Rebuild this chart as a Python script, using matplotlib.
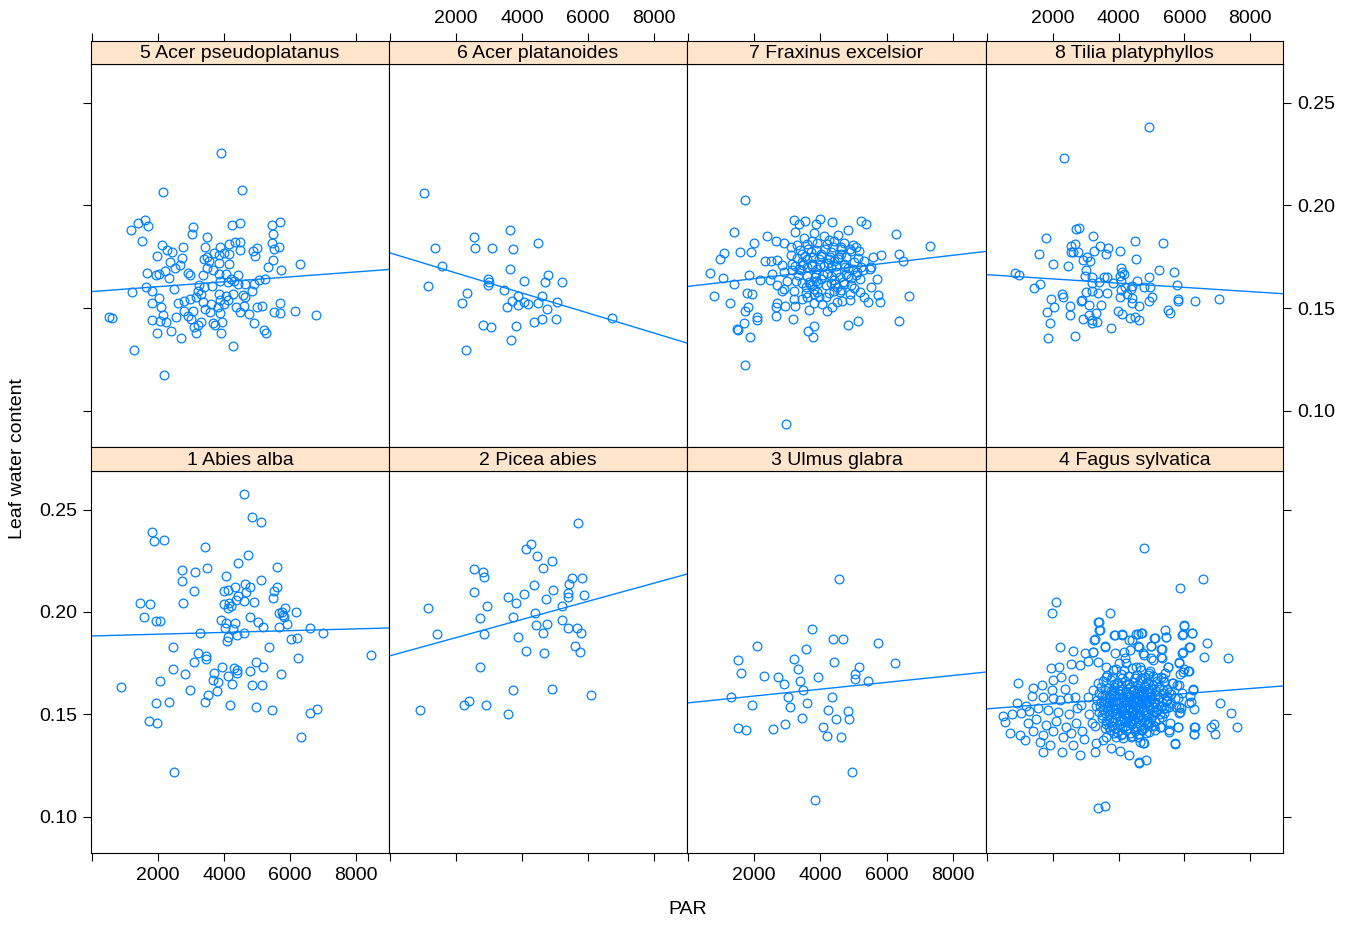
import matplotlib
matplotlib.use('Agg')
from matplotlib import pyplot as plt

plt.rcParams['font.family'] = ['Liberation Sans', 'DejaVu Sans']

# 5 Acer pseudoplatanus
acer_ps_par = [3900, 2150, 4535, 1180, 1405, 1605, 1690, 1515, 3070, 3020, 4230, 4485, 5445, 5690, 5475, 3485,
               2120, 2275, 2425, 1980, 2770, 2720, 2355, 2655, 2505, 2225, 1680, 1930, 2030, 2325, 3415, 3880,
               4160, 4335, 4475, 4475, 3685, 3850, 4010, 4160, 3485, 3405, 3555, 3850, 4140, 3665, 3475, 4870,
               5000, 4940, 5505, 5455, 5665, 5475, 5325, 5725, 6315, 2900, 2980, 3355, 3850, 4060, 4415, 4210,
               4315, 3890, 4130, 4415, 4635, 4920, 5050, 5240, 2475, 1635, 1820, 1200, 2040, 1820, 2090, 2615,
               2800, 2980, 3150, 3255, 3405, 3625, 3200, 3305, 3850, 4060, 4265, 4565, 4840, 4635, 3890, 4110,
               3355, 3605, 3990, 2800, 3050, 3435, 3565, 3810, 3880, 4365, 4615, 4485, 4770, 4990, 5140, 5695,
               5505, 5705, 6150, 6800, 525, 605, 2140, 1810, 2050, 2235, 2555, 2920, 3000, 3305, 3225, 3100,
               3655, 3940, 3735, 1960, 2395, 2685, 3160, 3900, 4910, 5200, 5280, 4285, 1285, 2170]
acer_ps_lwc = [.2257, .2064, .2075, .1881, .1914, .1930, .1898, .1826, .1895, .1862, .1906, .1914, .1903, .1920, .1860, .1846,
               .1808, .1781, .1774, .1755, .1799, .1746, .1724, .1711, .1696, .1682, .1673, .1662, .1664, .1647, .1795, .1797,
               .1813, .1820, .1820, .1784, .1769, .1756, .1769, .1764, .1748, .1737, .1729, .1719, .1716, .1686, .1693, .1776,
               .1794, .1753, .1789, .1816, .1799, .1732, .1698, .1683, .1716, .1672, .1659, .1659, .1667, .1667, .1662, .1642,
               .1634, .1634, .1626, .1618, .1618, .1618, .1639, .1642, .1594, .1602, .1582, .1576, .1550, .1524, .1507, .1524,
               .1533, .1545, .1553, .1610, .1605, .1607, .1585, .1569, .1569, .1561, .1569, .1566, .1584, .1553, .1537, .1537,
               .1529, .1520, .1520, .1488, .1488, .1496, .1480, .1504, .1475, .1504, .1512, .1480, .1472, .1504, .1508, .1526,
               .1483, .1477, .1486, .1465, .1459, .1452, .1464, .1442, .1439, .1431, .1456, .1460, .1447, .1431, .1420, .1407,
               .1426, .1431, .1420, .1379, .1390, .1355, .1379, .1379, .1426, .1395, .1379, .1317, .1294, .1176]
acer_ps_fit = [0.15804, 1.196e-6]

# 6 Acer platanoides
acer_pl_par = [1030, 2545, 2575, 3100, 3645, 3730, 4485, 1365, 1585, 1160, 3645, 2960, 2990, 2980, 4060, 4780,
               4685, 5210, 3465, 2335, 2190, 3870, 3700, 3870, 4060, 4170, 4485, 4595, 5060, 3555, 4760, 4605,
               5020, 4355, 2810, 3060, 3830, 3675, 2305, 6720]
acer_pl_lwc = [.2060, .1846, .1791, .1794, .1882, .1786, .1818, .1794, .1706, .1608, .1688, .1641, .1625, .1612, .1633, .1659,
               .1628, .1625, .1589, .1573, .1524, .1560, .1534, .1516, .1530, .1522, .1527, .1558, .1530, .1503, .1495, .1447,
               .1447, .1430, .1420, .1407, .1413, .1343, .1298, .1452]
acer_pl_fit = [0.17685, -4.873e-6]

# 7 Fraxinus excelsior
frax_par = [1720, 1385, 2375, 1990, 1585, 1890, 1100, 980, 675, 1050, 1385, 1850, 2170, 2315, 2495, 2675,
            2525, 2475, 800, 1265, 1790, 1940, 1820, 1715, 2070, 2070, 1685, 1465, 1505, 1860, 2645, 2900,
            3200, 3355, 3525, 3860, 3980, 4335, 5220, 5375, 3220, 3810, 4110, 4535, 4820, 6270, 7315, 6375,
            6485, 5830, 5575, 5505, 5695, 5525, 5745, 5795, 5425, 6665, 6385, 5120, 4820, 3810, 3635, 3770,
            3160, 2645, 2645, 2930, 3235, 2700, 3655, 4210, 4335, 4060, 3810, 4515, 4665, 3200, 3455, 3960,
            4180, 4890, 5200, 5305, 2830, 2900, 2700, 3200, 3555, 3810, 4415, 4615, 5020, 4715, 4315, 3655,
            3255, 3000, 4010, 4920, 5200, 2900, 3150, 3405, 3860, 4210, 4465, 4765, 5100, 5275, 5525, 3150,
            3455, 3760, 4110, 4415, 4715, 5020, 5325, 2850, 3100, 3455, 3705, 4010, 4315, 4615, 4920, 5175,
            3305, 3605, 3910, 4210, 4415, 4715, 4970, 5070, 3100, 3505, 3760, 4265, 4635, 3355, 3605, 3910,
            4315, 4820, 3605, 3960, 4265, 4565, 3860, 4415, 3810, 3605, 3760, 4495, 1727, 2970,
            3380, 3630, 3880, 4130, 4380, 4630, 4880, 5130, 3280, 3530, 3780, 4030, 4280, 4530, 4780, 5230,
            3230, 3480, 3730, 3980, 4230, 4480, 4730, 4980, 3330, 3580, 3830, 4080, 4330, 4580, 4830, 5080,
            3430, 3680, 3930, 4180, 4430, 4680, 4930, 3550, 3900, 4250, 4600, 4900]
frax_lwc = [.2024, .1868, .1853, .1816, .1771, .1771, .1767, .1740, .1670, .1647, .1615, .1663, .1637, .1730, .1730, .1735,
            .1667, .1637, .1559, .1527, .1572, .1569, .1507, .1488, .1458, .1442, .1429, .1398, .1393, .1358, .1826, .1816,
            .1930, .1910, .1923, .1910, .1933, .1920, .1922, .1910, .1868, .1865, .1849, .1858, .1878, .1862, .1800, .1764,
            .1728, .1756, .1751, .1691, .1642, .1602, .1562, .1530, .1531, .1558, .1439, .1439, .1416, .1413, .1390, .1361,
            .1449, .1462, .1504, .1512, .1509, .1523, .1491, .1484, .1507, .1520, .1523, .1528, .1536, .1545, .1545, .1556,
            .1556, .1569, .1577, .1556, .1585, .1593, .1610, .1585, .1602, .1593, .1585, .1588, .1598, .1618, .1624, .1626,
            .1634, .1634, .1642, .1647, .1642, .1675, .1683, .1683, .1667, .1670, .1675, .1667, .1675, .1683, .1699, .1715,
            .1723, .1715, .1707, .1728, .1715, .1723, .1728, .1712, .1756, .1764, .1772, .1764, .1772, .1764, .1780, .1777,
            .1805, .1813, .1816, .1810, .1829, .1816, .1805, .1797, .1797, .1842, .1829, .1832, .1797, .1691, .1699, .1691,
            .1699, .1696, .1740, .1740, .1740, .1748, .1634, .1637, .1569, .1553, .1610, .1602, .1224, .0937,
            .1785, .1790, .1782, .1788, .1795, .1786, .1790, .1745, .1745, .1752, .1748, .1755, .1750, .1741, .1747, .1700,
            .1705, .1710, .1703, .1712, .1719, .1705, .1700, .1690, .1660, .1655, .1650, .1662, .1655, .1650, .1657, .1660,
            .1620, .1615, .1622, .1612, .1618, .1625, .1610, .1575, .1580, .1572, .1578, .1540]
frax_fit = [0.16056, 1.894e-6]

# 8 Tilia platyphyllos
tilia_par = [4940, 2355, 2700, 2800, 1780, 3220, 2545, 2675, 2545, 2615, 2780, 1585, 3255, 3425, 3665, 3605,
             4040, 4515, 5355, 4525, 2920, 3050, 3130, 2000, 2455, 840, 980, 1605, 1425, 3000, 2980, 3180,
             3555, 3655, 4060, 4110, 4040, 4160, 4920, 5230, 5675, 5770, 4565, 3405, 3180, 3840, 4060, 4210,
             4415, 4365, 4060, 4765, 4970, 3200, 3000, 3385, 3655, 4040, 4265, 4415, 5020, 4940, 4415, 4635,
             2275, 2315, 1940, 2900, 2870, 3100, 3475, 2525, 2040, 1810, 2515, 3305, 3100, 3990, 4110, 2920,
             3180, 3200, 3355, 4335, 4485, 4635, 5505, 5575, 5810, 5800, 6335, 7050, 1920, 3760, 2665, 1850]
tilia_lwc = [.2383, .2232, .1884, .1892, .1842, .1853, .1804, .1813, .1772, .1775, .1772, .1764, .1780, .1803, .1793, .1764,
             .1780, .1829, .1819, .1738, .1736, .1748, .1728, .1715, .1705, .1673, .1660, .1618, .1598, .1683, .1656, .1653,
             .1653, .1650, .1694, .1674, .1658, .1666, .1653, .1687, .1676, .1614, .1634, .1626, .1621, .1622, .1634, .1601,
             .1609, .1593, .1588, .1601, .1601, .1585, .1580, .1574, .1572, .1556, .1569, .1549, .1552, .1533, .1525, .1509,
             .1569, .1552, .1546, .1541, .1536, .1517, .1517, .1509, .1504, .1483, .1468, .1476, .1465, .1488, .1471, .1447,
             .1442, .1427, .1430, .1450, .1458, .1440, .1491, .1478, .1543, .1533, .1536, .1544, .1426, .1405, .1364, .1356]
tilia_fit = [0.16627, -1.03e-6]

# 1 Abies alba
abies_par = [4615, 4840, 5110, 1830, 1870, 2190, 3425, 4735, 4415, 5605, 2735, 3120, 3485, 2725, 3100, 4070,
             5130, 4335, 4635, 4780, 4665, 3990, 4110, 5605, 5525, 5475, 4435, 4365, 4595, 4920, 4010, 4150,
             4210, 4130, 1465, 1770, 2760, 1585, 1940, 2050, 3910, 4060, 4345, 4800, 5020, 5180, 4030, 4265,
             5655, 5900, 5675, 5780, 5850, 6170, 5750, 5810, 6595, 6995, 3275, 4615, 4395, 4110, 4090, 6040,
             6210, 5365, 2445, 8455, 3220, 3455, 3455, 3080, 3950, 4315, 4385, 4395, 4960, 5180, 4780, 6230,
             5735, 2455, 2820, 3705, 3655, 3810, 4130, 4240, 4840, 5150, 880, 2050, 2970, 3790, 3525, 3435,
             1950, 2325, 4180, 4960, 5445, 6595, 6820, 1715, 1980, 6335, 2495]
abies_lwc = [.2576, .2462, .2439, .2389, .2346, .2351, .2316, .2278, .2241, .2221, .2205, .2195, .2213, .2150, .2104, .2176,
             .2156, .2124, .2137, .2120, .2099, .2104, .2107, .2124, .2104, .2067, .2078, .2059, .2052, .2049, .2039, .2042,
             .2029, .2021, .2046, .2037, .2044, .1974, .1958, .1955, .1961, .1945, .1945, .1977, .1953, .1925, .1922, .1916,
             .1929, .1942, .1994, .1985, .2021, .1999, .1999, .1974, .1922, .1896, .1896, .1896, .1886, .1877, .1857, .1870,
             .1873, .1831, .1828, .1790, .1802, .1786, .1769, .1755, .1733, .1725, .1717, .1701, .1756, .1733, .1711, .1776,
             .1698, .1722, .1696, .1704, .1668, .1660, .1688, .1649, .1642, .1646, .1636, .1664, .1620, .1613, .1594, .1563,
             .1555, .1561, .1546, .1537, .1522, .1506, .1525, .1467, .1459, .1389, .1220]
abies_fit = [0.18831, 4.32e-7]

# 2 Picea abies
picea_par = [5685, 4265, 4130, 4455, 4900, 4635, 2535, 2830, 2850, 5525, 5830, 5435, 4375, 4950, 2555, 5405,
             5405, 5870, 4070, 3585, 4715, 3820, 2940, 5220, 1140, 4395, 3735, 2725, 5220, 4435, 4755, 5405,
             5655, 5780, 4635, 1415, 2860, 3870, 5595, 5745, 4130, 4675, 2715, 3735, 4910, 6100, 2405, 2235,
             2920, 910, 3575]
picea_lwc = [.2435, .2333, .2305, .2274, .2250, .2216, .2209, .2196, .2172, .2167, .2164, .2139, .2130, .2107, .2097, .2091,
             .2074, .2081, .2087, .2073, .2061, .2042, .2030, .2029, .2018, .1993, .1974, .1969, .1961, .1935, .1941, .1922,
             .1922, .1899, .1896, .1891, .1892, .1876, .1835, .1805, .1811, .1800, .1730, .1618, .1624, .1595, .1567, .1546,
             .1548, .1522, .1501]
picea_fit = [0.17863, 4.43e-6]

# 3 Ulmus glabra
ulmus_par = [4575, 3760, 4375, 4675, 5725, 2070, 3565, 1515, 3210, 4395, 6240, 3335, 5160, 1595, 2305, 2715,
             3940, 5050, 5050, 5435, 3375, 2900, 3485, 1305, 3010, 4345, 1930, 3080, 3595, 4220, 4840, 4475,
             4860, 3435, 2940, 1515, 1750, 2575, 4070, 4190, 4615, 4960, 3840]
ulmus_lwc = [.2160, .1919, .1869, .1870, .1847, .1834, .1821, .1766, .1769, .1755, .1753, .1721, .1730, .1701, .1687, .1683,
             .1682, .1696, .1672, .1664, .1665, .1649, .1621, .1584, .1587, .1586, .1548, .1537, .1558, .1521, .1519, .1480,
             .1478, .1485, .1452, .1433, .1423, .1430, .1439, .1394, .1391, .1220, .1083]
ulmus_fit = [0.15565, 1.672e-6]

# 4 Fagus sylvatica
fagus_par = [2090, 1970, 3730, 3390, 3420, 3850, 4090, 3240, 3580, 2210, 2600, 2970, 3210, 1940, 2180, 2545,
             2820, 3060, 940, 1390, 1665, 2000, 2240, 2600, 2360, 1970, 2000, 1360, 1700, 910, 760, 1030,
             1270, 2210, 2450, 2670, 2850, 3060, 3210, 3390, 3610, 3820, 4000, 4210, 4360, 4420,
             485, 545, 700, 1000, 1150, 1605, 1700, 1910, 2270, 2600, 2820, 3365, 3575, 4635,
             1250, 1500, 1800, 2100, 2400, 2700, 1400, 1700, 2000, 2300, 2550, 2900, 3100, 2950, 1200, 1550,
             1850, 2150, 2500, 2750, 3200, 3300,
             3420, 3450, 3880, 4100, 4535, 4685, 5090, 5445, 6000, 5950, 6230, 3270, 3575, 4330, 4585, 4990,
             5320, 6150, 5950, 3220, 3880, 4180, 4735, 5040, 5290, 5845, 5495, 5950, 6100, 3370, 3625, 4230,
             4535, 4890, 5340, 5645, 5845, 6250, 6200, 5795, 5745, 5900, 5845, 5795, 6300, 6300, 5725, 5545,
             5290, 4735, 4330, 4615, 4820, 4030, 3775, 3270, 3320, 3525, 3625, 3270, 3575, 4080, 4385,
             4778, 5860, 6575, 5990, 5405, 5455, 5930, 6230, 5100, 4715, 4595, 5000, 5300, 6160, 6695, 5930,
             6585, 7315, 4615, 4770, 5000, 5325, 5850, 5495, 5980, 6130, 5880, 4665, 4940, 5405, 5170, 4715,
             5625, 5780, 5220, 5525, 6250, 5930, 6180, 5725, 5475, 6150, 7070, 6285, 5830, 5880, 7415, 7595,
             6910, 6820, 6310, 6290, 6920, 5810, 5575, 5525, 5275, 5725, 4770, 4665, 5120, 4920, 4715, 5325,
             5070, 4820, 5120, 5375, 4970, 4615, 5575,
             3920, 4160, 4410, 4690, 4960, 3660, 3810, 4070, 4290, 4560, 4790, 5060, 5290,
             3540, 3760, 3960, 4210, 4440, 4660, 4910, 5160, 5390,
             3460, 3690, 3860, 4110, 4340, 4590, 4760, 5010, 5240, 5480,
             3410, 3590, 3810, 4010, 4240, 4390, 4560, 4710, 4860, 5110, 5340, 5590,
             3360, 3560, 3740, 3910, 4140, 4310, 4460, 4610, 4790, 4940, 5190, 5440,
             3440, 3660, 3840, 4060, 4190, 4360, 4510, 4640, 4890, 5060, 5310, 5540,
             3410, 3590, 3790, 3960, 4110, 4240, 4410, 4560, 4740, 4910, 5140, 5390,
             3490, 3710, 3890, 4160, 4290, 4460, 4590, 4810, 4990, 5240,
             3610, 3790, 4010, 4190, 4410, 4640, 4860, 5090,
             3740, 3960, 4240, 4510, 4690, 4940, 3910, 4140, 4410, 4590,
             4050, 4300, 4450, 4700, 4200, 4650, 4350, 3900, 4800, 4100, 4500, 3700, 5000, 4400, 4600, 4250,
             3850, 4750, 4450, 4050,
             3850, 4080, 4330, 4560, 4820, 5060,
             3580, 3780, 3990, 4230, 4470, 4680, 4900, 5130, 5360,
             3500, 3700, 3900, 4120, 4320, 4480, 4640, 4780, 4980, 5230, 5470,
             3460, 3640, 3830, 4000, 4230, 4390, 4530, 4700, 4870, 5080, 5330,
             3540, 3750, 3930, 4120, 4280, 4430, 4580, 4760, 4960, 5180, 5430,
             3510, 3700, 3880, 4040, 4180, 4330, 4490, 4650, 4830, 5040, 5270,
             3620, 3800, 4060, 4240, 4380, 4530, 4700, 4900, 5120,
             3700, 3900, 4100, 4300, 4560, 4780, 5000,
             3850, 4090, 4360, 4620, 4830]
fagus_lwc = [.2049, .1995, .1995, .1951, .1912, .1888, .1893, .1863, .1829, .1829, .1810, .1800, .1805, .1727, .1732, .1746,
             .1741, .1761, .1654, .1629, .1644, .1668, .1683, .1673, .1624, .1620, .1580, .1590, .1585, .1556, .1502, .1507,
             .1517, .1571, .1580, .1585, .1546, .1585, .1620, .1654, .1683, .1717, .1751, .1776, .1815, .1863,
             .1493, .1463, .1410, .1400, .1376, .1366, .1317, .1351, .1317, .1351, .1302, .1044, .1054, .1268,
             .1460, .1480, .1450, .1470, .1440, .1460, .1420, .1400, .1420, .1390, .1410, .1420, .1500, .1380, .1540, .1530,
             .1520, .1510, .1500, .1530, .1460, .1540,
             .1953, .1912, .1888, .1888, .1893, .1896, .1872, .1880, .1937, .1893, .1896, .1867, .1834, .1863, .1834, .1834,
             .1818, .1828, .1803, .1807, .1798, .1807, .1798, .1766, .1779, .1758, .1733, .1709, .1714, .1758, .1733, .1750,
             .1733, .1693, .1676, .1652, .1644, .1620, .1563, .1579, .1538, .1530, .1506, .1441, .1441, .1405, .1356, .1424,
             .1441, .1359, .1302, .1262, .1278, .1324, .1335, .1319, .1359, .1376, .1392, .1444, .1433, .1400, .1392,
             .2312, .2119, .2161, .1933, .1912, .1876, .1889, .1899, .1872, .1896, .1893, .1834, .1820, .1828, .1847, .1802,
             .1782, .1774, .1831, .1790, .1774, .1774, .1753, .1733, .1720, .1711, .1698, .1733, .1701, .1701, .1676, .1676,
             .1652, .1644, .1636, .1611, .1623, .1607, .1590, .1579, .1571, .1558, .1558, .1525, .1538, .1514, .1509, .1441,
             .1452, .1437, .1437, .1405, .1405, .1441, .1460, .1416, .1441, .1359, .1359, .1368, .1425, .1457, .1425, .1489,
             .1514, .1554, .1563, .1530, .1603, .1620, .1554,
             .1722, .1716, .1727, .1719, .1712, .1693, .1684, .1697, .1688, .1694, .1683, .1690, .1681,
             .1662, .1668, .1655, .1664, .1657, .1666, .1653, .1661, .1658,
             .1634, .1627, .1636, .1623, .1632, .1628, .1635, .1624, .1633, .1626,
             .1603, .1596, .1605, .1598, .1601, .1594, .1606, .1597, .1603, .1595, .1604, .1598,
             .1572, .1567, .1575, .1564, .1573, .1566, .1574, .1568, .1571, .1563, .1575, .1566,
             .1543, .1536, .1545, .1538, .1546, .1533, .1542, .1537, .1544, .1535, .1541, .1534,
             .1512, .1505, .1514, .1507, .1516, .1503, .1511, .1506, .1515, .1504, .1512, .1507,
             .1483, .1476, .1485, .1474, .1484, .1477, .1486, .1475, .1482, .1478,
             .1452, .1446, .1455, .1444, .1453, .1447, .1454, .1445,
             .1423, .1416, .1425, .1418, .1422, .1415, .1392, .1386, .1395, .1388,
             .1615, .1585, .1620, .1555, .1530, .1495, .1460, .1530, .1640, .1680, .1680, .1560, .1575, .1550, .1525, .1650,
             .1620, .1610, .1495, .1470,
             .1651, .1644, .1650, .1646, .1653, .1645,
             .1619, .1614, .1621, .1616, .1620, .1613, .1622, .1615, .1619,
             .1589, .1584, .1591, .1586, .1590, .1583, .1592, .1585, .1588, .1584, .1590,
             .1559, .1555, .1561, .1554, .1560, .1556, .1562, .1553, .1559, .1555, .1560,
             .1529, .1525, .1531, .1524, .1530, .1526, .1532, .1523, .1529, .1525, .1530,
             .1499, .1495, .1501, .1494, .1500, .1496, .1502, .1493, .1499, .1495, .1500,
             .1469, .1465, .1471, .1464, .1470, .1466, .1472, .1463, .1469,
             .1439, .1435, .1441, .1434, .1440, .1436, .1442,
             .1409, .1405, .1411, .1404, .1410]
fagus_fit = [0.15274, 1.24e-6]

panels = [('5 Acer pseudoplatanus', acer_ps_par, acer_ps_lwc, acer_ps_fit),
          ('6 Acer platanoides', acer_pl_par, acer_pl_lwc, acer_pl_fit),
          ('7 Fraxinus excelsior', frax_par, frax_lwc, frax_fit),
          ('8 Tilia platyphyllos', tilia_par, tilia_lwc, tilia_fit),
          ('1 Abies alba', abies_par, abies_lwc, abies_fit),
          ('2 Picea abies', picea_par, picea_lwc, picea_fit),
          ('3 Ulmus glabra', ulmus_par, ulmus_lwc, ulmus_fit),
          ('4 Fagus sylvatica', fagus_par, fagus_lwc, fagus_fit)]

x_ticks = [0, 2000, 4000, 6000, 8000]
x_labels = ['', '2000', '4000', '6000', '8000']
y_ticks = [0.10, 0.15, 0.20, 0.25]
y_labels = ['0.10', '0.15', '0.20', '0.25']
xlim = (-30, 9000)
ylim = (0.0824, 0.2688)

W, H = 1354, 926
cols = [91, 389, 687, 986, 1283]
rows = [(41, 64, 447), (447, 471, 853)]  # strip top, panel top, panel bottom (pixels)
blue = '#0080ff'

fig = plt.figure(figsize=(13.54, 9.26), dpi=100)

for k, (name, par, lwc, fit) in enumerate(panels):
    r, c = divmod(k, 4)
    s_top, p_top, p_bot = rows[r]
    x0, x1 = cols[c], cols[c + 1]
    ax = fig.add_axes([x0 / W, 1 - p_bot / H, (x1 - x0) / W, (p_bot - p_top) / H])
    sx = fig.add_axes([x0 / W, 1 - p_top / H, (x1 - x0) / W, (p_top - s_top) / H])

    ax.plot(par, lwc, 'o', mfc='none', mec=blue, ms=6.3, mew=0.9)
    ax.plot(xlim, [fit[0] + fit[1] * x for x in xlim], c=blue, lw=1)
    ax.set_xlim(xlim)
    ax.set_ylim(ylim)

    ax.set_xticks(x_ticks)
    ax.set_xticklabels(x_labels)
    ax.set_yticks(y_ticks)
    ax.set_yticklabels(y_labels)
    ax.tick_params(direction='out', length=6, width=0.8, labelsize=14, pad=4)
    ax.tick_params(axis='x', bottom=(r == 1), labelbottom=(r == 1 and c in (0, 2)), top=False)
    ax.tick_params(axis='y', left=(c == 0), labelleft=(c == 0 and r == 1),
                   right=(c == 3), labelright=(c == 3 and r == 0))
    for sp in ax.spines.values():
        sp.set_linewidth(0.8)

    sx.set_facecolor('#ffe5cc')
    sx.set_xlim(xlim)
    sx.set_yticks([])
    sx.set_xticks(x_ticks)
    sx.set_xticklabels(x_labels)
    sx.tick_params(axis='x', direction='out', length=6, width=0.8, labelsize=14, pad=4,
                   bottom=False, labelbottom=False, top=(r == 0), labeltop=(r == 0 and c in (1, 3)))
    for sp in sx.spines.values():
        sp.set_linewidth(0.8)
    sx.text(0.5, 0.45, name, transform=sx.transAxes, ha='center', va='center', fontsize=14)

fig.text(688 / W, 1 - 910 / H, 'PAR', ha='center', va='center', fontsize=14)
fig.text(18 / W, 1 - 459 / H, 'Leaf water content', rotation=90, ha='center', va='center', fontsize=14)

fig.savefig('out.png', dpi=100)
